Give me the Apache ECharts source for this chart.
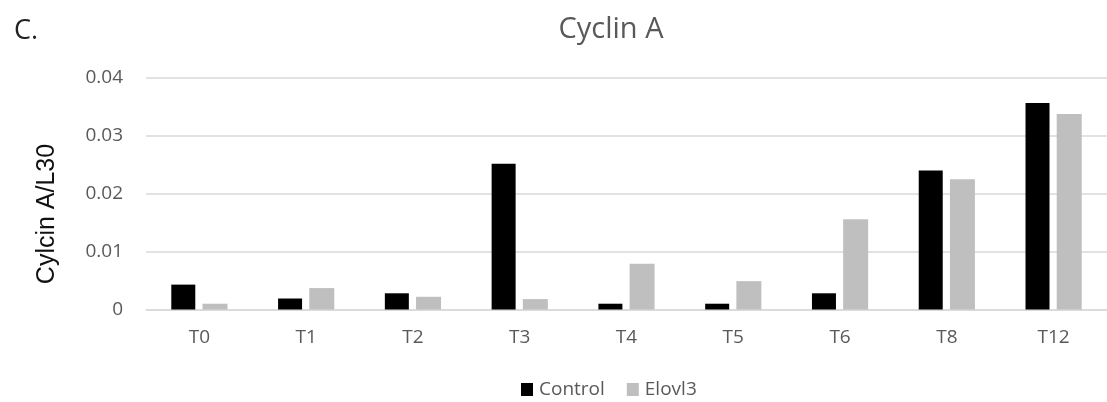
<!DOCTYPE html>
<html><head><meta charset="utf-8">
<script src="https://cdn.jsdelivr.net/npm/echarts@6/dist/echarts.min.js"></script>
<style>html,body{margin:0;padding:0;background:#fff}#c{width:1107px;height:402px}</style>
</head><body><div id="c"></div>
<script>
var categories = ['T0','T1','T2','T3','T4','T5','T6','T8','T12'];
var controlValues = [0.0043, 0.0019, 0.0028, 0.0252, 0.0010, 0.0010, 0.0028, 0.0240, 0.0357];
var elovl3Values = [0.0010, 0.0037, 0.0022, 0.0018, 0.0079, 0.0049, 0.0156, 0.0225, 0.0338];
var yTicks = [0, 0.01, 0.02, 0.03, 0.04];

var chart = echarts.init(document.getElementById('c'));
var font = '"Open Sans", "Liberation Sans", sans-serif';
chart.setOption({
  animation: false,
  backgroundColor: '#fff',
  title: [
    {text: 'Cyclin A', left: 606, top: 10, textAlign: 'center',
     textStyle: {fontFamily: font, fontSize: 29, fontWeight: 'normal', color: '#595959'}},
    {text: 'C.', left: 9, top: 13,
     textStyle: {fontFamily: font, fontSize: 27, fontWeight: 'normal', color: '#222'}}
  ],
  legend: {
    data: ['Control', 'Elovl3'], top: 380, left: 521, padding: 0, itemWidth: 12, itemHeight: 13,
    itemGap: 22, icon: 'rect',
    textStyle: {fontFamily: font, fontSize: 19, color: '#595959', padding: [0, 0, 0, 1]}
  },
  graphic: [{
    type: 'text', x: 47, y: 214, rotation: Math.PI / 2,
    style: {text: 'Cylcin A/L30', align: 'center', verticalAlign: 'middle',
      font: '25px "Liberation Sans", Arial, sans-serif', fill: '#111'}
  }],
  grid: {left: 146, top: 78, width: 972, height: 231.5, containLabel: false},
  xAxis: {
    type: 'category', data: categories,
    axisLine: {lineStyle: {color: '#d9d9d9', width: 1.5}},
    axisTick: {show: false},
    axisLabel: {fontFamily: font, fontSize: 19, color: '#595959', margin: 19}
  },
  yAxis: {
    type: 'value', min: 0, max: 0.04, interval: 0.01,
    axisLine: {show: false}, axisTick: {show: false},
    splitLine: {lineStyle: {color: '#d9d9d9', width: 1.5}},
    axisLabel: {fontFamily: font, fontSize: 19, color: '#595959', margin: 23,
      formatter: function (v) { return yTicks.indexOf(v) >= 0 ? String(v) : ''; }}
  },
  series: [
    {name: 'Control', type: 'bar', data: controlValues, barWidth: 24, barGap: '30%',
     itemStyle: {color: '#000000'}},
    {name: 'Elovl3', type: 'bar', data: elovl3Values, barWidth: 25,
     itemStyle: {color: '#bfbfbf'}}
  ]
});
</script></body></html>
